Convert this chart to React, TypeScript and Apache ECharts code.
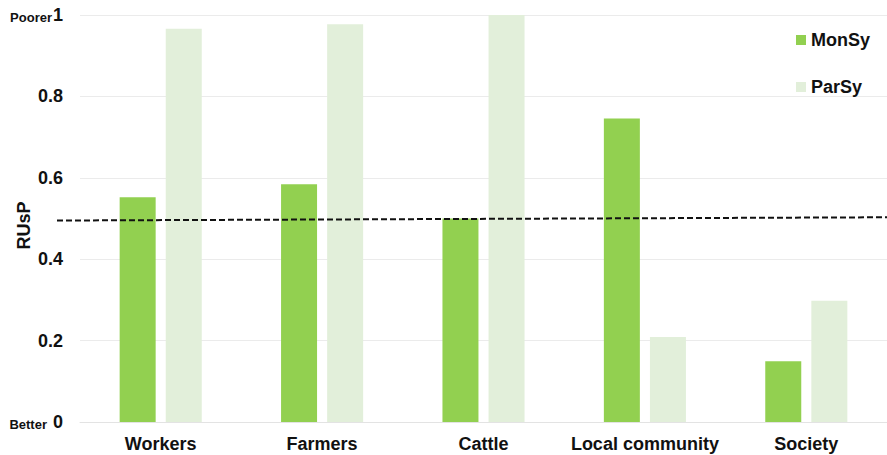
import React, { useEffect, useRef } from "react";
import * as echarts from "echarts";

const categories = ["Workers", "Farmers", "Cattle", "Local community", "Society"];
const monSy = [0.552, 0.584, 0.5, 0.746, 0.149];
const parSy = [0.966, 0.977, 1.0, 0.209, 0.298];
const seriesNames = ["MonSy", "ParSy"];
const thresholdStart = 0.495;
const thresholdEnd = 0.503;
const yTicks = [0, 0.2, 0.4, 0.6, 0.8, 1];

const FONT = "'Liberation Sans', Arial, sans-serif";

export default function App() {
  const ref = useRef<HTMLDivElement>(null);
  useEffect(() => {
    if (!ref.current) return;
    const chart = echarts.init(ref.current, undefined, { renderer: "svg" });
    chart.setOption({
      animation: false,
      textStyle: { fontFamily: FONT },
      grid: { left: 80, right: 0, top: 15, bottom: 33, containLabel: false, outerBoundsMode: "none" },
      legend: {
        orient: "vertical",
        left: 791,
        top: 26,
        itemWidth: 10,
        itemHeight: 10,
        itemGap: 29,
        icon: "rect",
        textStyle: { fontFamily: FONT, fontSize: 18, fontWeight: "bold", color: "#111" },
        data: seriesNames,
      },
      xAxis: {
        type: "category",
        data: categories,
        axisTick: { show: false },
        axisLine: { lineStyle: { color: "#e3e3e3", width: 1 } },
        axisLabel: { interval: 0, margin: 13, fontFamily: FONT, fontSize: 18, fontWeight: "bold", color: "#111" },
      },
      yAxis: {
        type: "value",
        min: 0,
        max: 1,
        interval: 0.2,
        name: "RUsP",
        nameLocation: "middle",
        nameGap: 47,
        nameMoveOverlap: false,
        nameTextStyle: { fontFamily: FONT, fontSize: 18, fontWeight: "bold", color: "#111", padding: [0, 14, 0, 0] },
        splitLine: { lineStyle: { color: "#ebebeb", width: 1 } },
        axisLine: { show: false },
        axisTick: { show: false },
        axisLabel: {
          margin: 17,
          color: "#111",
          fontFamily: FONT,
          fontSize: 18,
          fontWeight: "bold",
          formatter: (v: number) => {
            if (v === yTicks[yTicks.length - 1]) return "{s|Poorer}{b|1}";
            if (v === yTicks[0]) return "{s|Better} {b|0}";
            return "{b|" + v.toFixed(1) + "}";
          },
          rich: {
            s: { fontFamily: FONT, fontSize: 13, fontWeight: "bold", color: "#111", verticalAlign: "bottom", padding: [0, 1, 0, 0] },
            b: { fontFamily: FONT, fontSize: 18, fontWeight: "bold", color: "#111" },
          },
        },
      },
      series: [
        {
          name: seriesNames[0],
          type: "bar",
          data: monSy,
          barWidth: 36,
          barGap: "28%",
          itemStyle: { color: "#92d050" },
        },
        {
          name: seriesNames[1],
          type: "bar",
          data: parSy,
          barWidth: 36,
          itemStyle: { color: "#e2efda" },
        },
      ],
    });
    const y0 = chart.convertToPixel({ yAxisIndex: 0 }, thresholdStart) as number;
    const y1 = chart.convertToPixel({ yAxisIndex: 0 }, thresholdEnd) as number;
    chart.setOption({
      graphic: [
        {
          type: "line",
          z: 100,
          shape: { x1: 57, y1: y0, x2: 887, y2: y1 },
          style: { stroke: "#111", lineWidth: 2, lineDash: [6, 3] },
        },
      ],
    });
    return () => chart.dispose();
  }, []);
  return (
    <div
      ref={ref}
      style={{ position: "fixed", left: 0, top: 0, width: 887, height: 455, background: "#fff" }}
    />
  );
}
